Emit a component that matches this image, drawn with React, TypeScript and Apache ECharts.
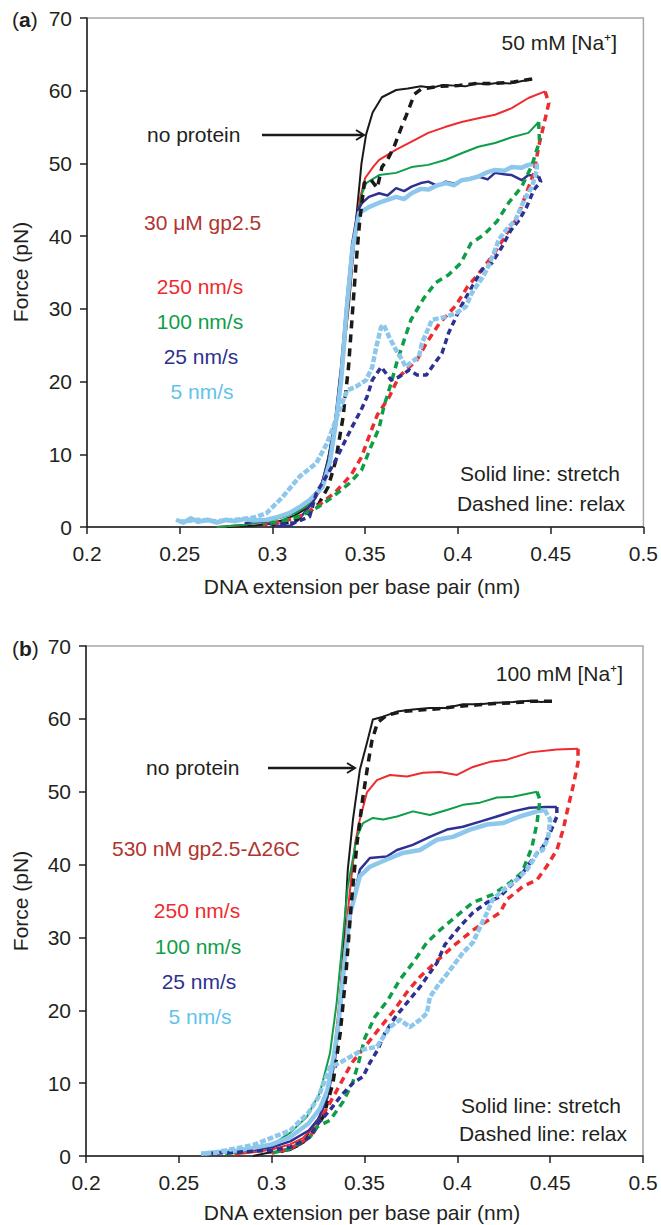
import React, { useEffect, useRef } from "react";
import * as echarts from "echarts";

// ---------- tick labels ----------
const xTicks = [0.2, 0.25, 0.3, 0.35, 0.4, 0.45, 0.5];
const yTicks = [0, 10, 20, 30, 40, 50, 60, 70];

// ---------- panel (a): 50 mM Na+, 30 uM gp2.5 ----------
const aNoProteinStretch = [[0.275,0],[0.285,0.1],[0.295,0.3],[0.305,0.9],[0.312,1.6],[0.318,2.5],[0.322,3.6],[0.326,5.3],[0.33,9.5],[0.334,15],[0.338,23],[0.3414,31],[0.345,42],[0.348,50],[0.3505,54],[0.354,57],[0.359,59.1],[0.3667,60.1],[0.373,60.3],[0.38,60.6],[0.386,60.4],[0.392,60.8],[0.398,60.7],[0.404,60.6],[0.41,61],[0.416,60.9],[0.422,61.1],[0.428,61],[0.434,61.3],[0.44,61.6]];
const aNoProteinRelax = [[0.44,61.6],[0.43,61.2],[0.42,61],[0.41,61],[0.4,60.7],[0.39,60.6],[0.38,60.2],[0.3765,59.5],[0.3747,58.3],[0.372,56.5],[0.37,55.3],[0.3656,52.3],[0.362,50.5],[0.359,49.5],[0.3565,46.6],[0.353,47.8],[0.3495,47.3],[0.347,42],[0.345,36],[0.343,29],[0.341,22],[0.338,15],[0.334,9],[0.33,5.5],[0.325,3.2],[0.318,1.6],[0.31,0.7],[0.3,0.3]];
const a250Stretch = [[0.27,0],[0.285,0.3],[0.295,0.8],[0.303,1.5],[0.31,2],[0.317,2.6],[0.322,3.5],[0.327,5.5],[0.331,9],[0.335,15],[0.338,22],[0.341,31],[0.344,39],[0.347,45],[0.35,48],[0.3545,49.6],[0.3575,50.5],[0.3667,51.9],[0.375,53],[0.384,54.2],[0.393,55],[0.402,55.7],[0.411,56.2],[0.42,56.7],[0.429,57.6],[0.438,59],[0.447,59.9]];
const a250Relax = [[0.447,59.9],[0.449,58.3],[0.446,55],[0.4435,52.3],[0.441,48.7],[0.437,46],[0.432,42.5],[0.4274,40.8],[0.42,37.8],[0.413,35.4],[0.405,33],[0.399,30.5],[0.39,28],[0.383,25.3],[0.378,23],[0.373,21.8],[0.368,20.6],[0.363,17.9],[0.3565,15.4],[0.352,12.4],[0.348,9.6],[0.3425,7.2],[0.334,4.8],[0.325,3],[0.315,1.5],[0.305,0.7],[0.295,0.3]];
const a100Stretch = [[0.27,0],[0.285,0.3],[0.295,0.7],[0.305,1.3],[0.313,2],[0.319,3],[0.324,4.5],[0.328,7],[0.3306,9.6],[0.334,15],[0.337,22],[0.34,30],[0.343,38],[0.346,43],[0.3485,46],[0.3505,47.3],[0.3575,48.4],[0.3667,48.7],[0.375,49.5],[0.384,49.8],[0.3935,50.5],[0.402,51.4],[0.411,52.3],[0.42,52.8],[0.429,53.6],[0.438,54.2],[0.4435,55.7]];
const a100Relax = [[0.4435,55.7],[0.444,53],[0.442,51.5],[0.44,49.8],[0.4344,46.8],[0.4274,44.6],[0.421,42],[0.414,40.2],[0.407,39],[0.4016,36.3],[0.395,34.7],[0.388,33.6],[0.3817,31.5],[0.3747,28.5],[0.371,25.7],[0.367,22.6],[0.364,19.8],[0.36,16.5],[0.3575,13.6],[0.353,11],[0.348,7.8],[0.3414,6],[0.3323,4.1],[0.325,2.8],[0.315,1.5],[0.305,0.8],[0.295,0.4]];
const a25Stretch = [[0.285,0.5],[0.29,0.8],[0.295,0.6],[0.3,0.3],[0.305,0.1],[0.31,0.2],[0.314,1],[0.318,2.2],[0.322,3.5],[0.326,5.5],[0.33,9],[0.334,15],[0.337,22],[0.34,31],[0.343,39],[0.346,43.5],[0.3484,44.6],[0.352,45.4],[0.3575,45.9],[0.362,45.6],[0.3667,46.6],[0.371,46.2],[0.375,46.8],[0.38,47.3],[0.384,47.5],[0.389,46.9],[0.3935,47.5],[0.398,47.2],[0.402,47.7],[0.407,48],[0.411,48.2],[0.416,47.8],[0.42,48.7],[0.425,48.5],[0.429,48.4],[0.4344,47.7],[0.438,48.4],[0.4435,48.2]];
const a25Relax = [[0.4435,48.2],[0.4446,47.5],[0.441,46.4],[0.437,44],[0.433,42.2],[0.4285,40.8],[0.4237,38.5],[0.4183,36.3],[0.413,35.4],[0.4075,33],[0.4016,30.3],[0.395,26.7],[0.3914,23.9],[0.386,22],[0.383,20.9],[0.378,20.9],[0.3737,21.6],[0.368,20.6],[0.364,20.2],[0.3586,22],[0.3538,20.2],[0.351,17.9],[0.3478,16.1],[0.343,13.8],[0.3387,11.6],[0.3333,8.8],[0.3237,4.7],[0.32,1.4],[0.312,0.6],[0.302,0.3]];
const a5Stretch = [[0.248,1],[0.252,0.6],[0.256,1.2],[0.26,0.7],[0.265,1],[0.27,0.6],[0.275,1],[0.28,0.8],[0.285,1.1],[0.29,0.9],[0.2968,1],[0.303,1.4],[0.309,1.9],[0.315,2.8],[0.32,3.7],[0.327,5.5],[0.331,9],[0.334,14],[0.337,20],[0.34,30],[0.343,38],[0.3468,43.2],[0.352,44],[0.3575,44.6],[0.362,45],[0.3667,45.4],[0.371,45.1],[0.375,45.9],[0.38,46.5],[0.384,46.4],[0.389,47],[0.3935,47.3],[0.398,47],[0.402,47.7],[0.407,47.9],[0.411,48.2],[0.416,48.8],[0.42,49.1],[0.425,49],[0.429,49.5],[0.434,49.4],[0.438,49.8],[0.4425,50]];
const a5Relax = [[0.4425,50],[0.4425,49.1],[0.44,46.8],[0.4366,45.4],[0.434,44],[0.431,42.2],[0.4258,40.8],[0.422,39.5],[0.4194,37.7],[0.4156,35.4],[0.4124,34],[0.4075,32.2],[0.4043,30.3],[0.399,29.4],[0.3935,28.9],[0.386,28.5],[0.383,26.7],[0.3806,25.3],[0.379,23.4],[0.375,22.7],[0.372,22],[0.3694,23.2],[0.3667,24.3],[0.363,26.1],[0.36,27.8],[0.3586,27.5],[0.356,24.8],[0.3538,22],[0.3505,20.2],[0.345,19.3],[0.3403,18.8],[0.336,16],[0.3296,11.6],[0.3237,8.8],[0.3145,6.9],[0.3054,4.1],[0.2968,1.9],[0.29,1.3],[0.28,1],[0.27,0.8],[0.26,1],[0.25,0.7]];

// ---------- panel (b): 100 mM Na+, 530 nM gp2.5-D26C ----------
const bNoProteinStretch = [[0.29,0],[0.2975,0.4],[0.31,0.8],[0.317,1.8],[0.3217,4],[0.326,5.4],[0.33,8.1],[0.334,14],[0.337,22],[0.339,30],[0.341,39.3],[0.3438,46.2],[0.3475,53],[0.3513,56.7],[0.3545,59.9],[0.36,60.3],[0.3675,61],[0.376,61.3],[0.385,61.5],[0.394,61.5],[0.403,62],[0.412,62],[0.421,62.2],[0.43,62.3],[0.439,62.5],[0.445,62.3],[0.451,62.4]];
const bNoProteinRelax = [[0.451,62.4],[0.44,62.4],[0.43,62.2],[0.42,62.1],[0.41,61.9],[0.4,61.7],[0.39,61.4],[0.38,61.2],[0.37,61],[0.362,60.5],[0.357,59.5],[0.354,57],[0.352,54],[0.349,49],[0.346,43],[0.343,35],[0.34,25],[0.337,17],[0.333,10],[0.328,5.5],[0.322,3],[0.315,1.5],[0.305,0.6]];
const b250Stretch = [[0.28,0.2],[0.29,0.5],[0.3,0.9],[0.31,1.6],[0.317,2.5],[0.322,3.8],[0.326,5.5],[0.33,8.5],[0.333,13],[0.336,20],[0.339,28],[0.342,36],[0.345,43],[0.3475,46.2],[0.3513,49.9],[0.3567,51.6],[0.3637,52.3],[0.3729,52.1],[0.3815,52.6],[0.3906,52.7],[0.3998,52.3],[0.4084,53.4],[0.4176,54.1],[0.4267,54.4],[0.4391,55.4],[0.4536,55.8],[0.465,55.9]];
const b250Relax = [[0.465,55.9],[0.465,54],[0.4623,50.7],[0.4596,47.8],[0.457,44.8],[0.4536,42],[0.448,39.7],[0.4429,37.9],[0.4353,37],[0.4267,35.2],[0.423,33.4],[0.4084,31],[0.3987,29],[0.3895,26.9],[0.3799,24.6],[0.3729,22.5],[0.3653,19.8],[0.3583,17.6],[0.3502,15],[0.3432,12.8],[0.3368,9.8],[0.3314,7.3],[0.326,4.9],[0.3206,2.6],[0.31,1],[0.3,0.4]];
const b100Stretch = [[0.275,0.2],[0.285,0.6],[0.295,1.2],[0.303,2],[0.31,3.2],[0.319,5.4],[0.326,8.7],[0.3314,14.1],[0.335,21],[0.338,29],[0.341,37],[0.3459,43.8],[0.3492,45.7],[0.3545,46.4],[0.36,46.2],[0.3675,46.6],[0.3761,47.3],[0.3852,46.8],[0.3944,47.5],[0.403,48.2],[0.4122,48.5],[0.4213,49.2],[0.4299,49.3],[0.4429,50]];
const b100Relax = [[0.4429,50],[0.4445,48.9],[0.4429,45.7],[0.4402,42.4],[0.4348,38.9],[0.4283,37.5],[0.4192,35.9],[0.4084,34.8],[0.4003,33.1],[0.3906,31],[0.3836,29.3],[0.3761,26.5],[0.369,24.2],[0.3626,21.4],[0.3556,19.1],[0.3502,16.2],[0.347,13],[0.3438,10.2],[0.3384,7.4],[0.3314,4.9],[0.3244,4],[0.3206,2.6],[0.31,1],[0.3,0.4]];
const b25Stretch = [[0.262,0.3],[0.27,0.4],[0.28,0.6],[0.29,0.8],[0.3,1.2],[0.31,2],[0.32,3.5],[0.325,5],[0.33,8],[0.334,13],[0.337,20],[0.34,28],[0.343,34],[0.3475,39.3],[0.3529,40.9],[0.362,41.1],[0.3675,42],[0.376,42.7],[0.3852,43.8],[0.3944,44.8],[0.403,45.2],[0.4122,45.9],[0.4213,46.6],[0.43,47.3],[0.439,47.8],[0.448,47.9],[0.4536,47.9]];
const b25Relax = [[0.4536,47.9],[0.4536,46.6],[0.45,44.4],[0.446,42.4],[0.443,41.6],[0.439,40.2],[0.4337,38.3],[0.4283,37],[0.423,35.6],[0.416,34.8],[0.4084,33.4],[0.4014,31.5],[0.3933,29],[0.389,26.5],[0.3799,23.2],[0.3718,20.7],[0.3664,19],[0.361,16.9],[0.3572,14.6],[0.3529,12.8],[0.3492,10.9],[0.3438,10],[0.3378,8.4],[0.3314,6.3],[0.325,4.5],[0.32,2.5],[0.31,1.2],[0.3,0.8],[0.28,0.5],[0.262,0.3]];
const b5Stretch = [[0.262,0.3],[0.27,0.5],[0.28,0.7],[0.29,1.1],[0.3,1.6],[0.31,2.6],[0.32,4.5],[0.326,6.5],[0.33,9],[0.333,13],[0.336,18],[0.339,26],[0.342,33],[0.3475,38.4],[0.3529,39.7],[0.362,40.7],[0.3707,41.6],[0.3799,42],[0.389,43.4],[0.3976,43.8],[0.4068,44.8],[0.416,45.5],[0.4246,45.7],[0.4337,46.6],[0.4429,47.3],[0.447,47.5]];
const b5Relax = [[0.447,47.5],[0.45,46.2],[0.449,43.8],[0.446,42],[0.443,41.6],[0.441,40.7],[0.4375,39.3],[0.432,37.9],[0.4246,36.5],[0.419,35.2],[0.416,33.4],[0.4133,32],[0.4084,29.3],[0.403,27.9],[0.396,25.5],[0.389,23.2],[0.3852,21.8],[0.3836,19.6],[0.3799,18.7],[0.3745,17.7],[0.369,18.7],[0.3637,17.7],[0.36,16.3],[0.3567,15],[0.3492,14.6],[0.3422,13.6],[0.3368,12.8],[0.3314,12.2],[0.325,8],[0.32,6],[0.31,3.5],[0.3,2.5],[0.29,1.5],[0.28,1],[0.27,0.5],[0.262,0.3]];

const FONT = "'Liberation Sans', Arial, Helvetica, sans-serif";
const TXT = "#231f20";
const C_BLACK = "#1a1a1a";
const C_RED = "#ee2b2e";
const C_GREEN = "#0e9e48";
const C_DBLUE = "#2e3192";
const C_LBLUE = "#8dc8ec";

function mk(data: number[][], color: string, dashed: boolean, width: number, g: number, dash?: number[]) {
  return {
    type: "line",
    xAxisIndex: g,
    yAxisIndex: g,
    data,
    showSymbol: false,
    symbol: "none",
    silent: true,
    lineStyle: {
      color,
      width,
      type: dashed ? (dash || [7, 5]) : "solid",
      cap: "butt",
      join: "round",
    },
  };
}

function txt(text: string, x: number, y: number, fill: string, align = "center", extra: any = {}) {
  return {
    type: "text",
    x,
    y,
    silent: true,
    ...extra,
    style: {
      text,
      fill,
      font: `21px ${FONT}`,
      textAlign: align,
      align,
      textVerticalAlign: "middle",
      verticalAlign: "middle",
    },
  };
}

function arrow(x1: number, x2: number, y: number) {
  return [
    { type: "line", silent: true, shape: { x1, y1: y, x2: x2 - 1, y2: y }, style: { stroke: C_BLACK, lineWidth: 2.5 } },
    { type: "polyline", silent: true, shape: { points: [[x2 - 8, y - 5], [x2, y], [x2 - 8, y + 5]] }, style: { stroke: C_BLACK, lineWidth: 2, fill: null } },
  ];
}

function xAxisCfg(g: number) {
  return {
    type: "value",
    gridIndex: g,
    min: xTicks[0],
    max: xTicks[xTicks.length - 1],
    interval: 0.05,
    axisLine: { show: true, onZero: false, lineStyle: { color: TXT, width: 1.5 } },
    axisTick: { show: true, inside: false, length: 7, lineStyle: { color: TXT, width: 1.5 } },
    splitLine: { show: false },
    axisLabel: {
      color: TXT,
      fontSize: 21,
      fontFamily: FONT,
      margin: 16,
      formatter: (v: number) => String(+v.toFixed(2)),
    },
  };
}

function yAxisCfg(g: number) {
  return {
    type: "value",
    gridIndex: g,
    min: yTicks[0],
    max: yTicks[yTicks.length - 1],
    interval: 10,
    axisLine: { show: true, onZero: false, lineStyle: { color: TXT, width: 1.5 } },
    axisTick: { show: true, inside: false, length: 7, lineStyle: { color: TXT, width: 1.5 } },
    splitLine: { show: false },
    axisLabel: { color: TXT, fontSize: 21, fontFamily: FONT, margin: 15 },
  };
}

export default function App() {
  const ref = useRef<HTMLDivElement>(null);
  useEffect(() => {
    if (!ref.current) return;
    const chart = echarts.init(ref.current, undefined, { renderer: "svg" });
    const series: any[] = [];
    const panels = [
      [aNoProteinStretch, aNoProteinRelax, a250Stretch, a250Relax, a100Stretch, a100Relax, a25Stretch, a25Relax, a5Stretch, a5Relax],
      [bNoProteinStretch, bNoProteinRelax, b250Stretch, b250Relax, b100Stretch, b100Relax, b25Stretch, b25Relax, b5Stretch, b5Relax],
    ];
    panels.forEach((p, g) => {
      series.push(mk(p[0], C_BLACK, false, 2, g));
      series.push(mk(p[2], C_RED, false, 2, g));
      series.push(mk(p[4], C_GREEN, false, 2, g));
      series.push(mk(p[6], C_DBLUE, false, 2.5, g));
      series.push(mk(p[8], C_LBLUE, false, 4.5, g));
      series.push(mk(p[1], C_BLACK, true, 3.5, g, [8, 6]));
      series.push(mk(p[3], C_RED, true, 3.5, g));
      series.push(mk(p[5], C_GREEN, true, 3.5, g));
      series.push(mk(p[7], C_DBLUE, true, 3.5, g, [6, 4]));
      series.push(mk(p[9], C_LBLUE, true, 4.5, g, [6, 2]));
    });

    const graphics: any[] = [
      // panel a
      { type: "text", x: 12, y: 19, silent: true, style: { text: "({b|a})", fill: TXT, font: `21px ${FONT}`, textVerticalAlign: "middle", verticalAlign: "middle", rich: { b: { fontWeight: "bold", fontSize: 21, fontFamily: FONT, fill: TXT, color: TXT } } } },
      txt("50 mM [Na⁺]", 617, 42, TXT, "right"),
      txt("no protein", 147, 134, TXT, "left"),
      ...arrow(262, 364, 135),
      txt("30 μM gp2.5", 144, 222, "#b03530", "left"),
      txt("250 nm/s", 200, 286, C_RED),
      txt("100 nm/s", 200, 321, C_GREEN),
      txt("25 nm/s", 201, 356, C_DBLUE),
      txt("5 nm/s", 202, 391, "#5fc3ea"),
      txt("Solid line: stretch", 540, 473, TXT),
      txt("Dashed line: relax", 541, 503, TXT),
      txt("Force (pN)", 20, 272, TXT, "center", { rotation: Math.PI / 2 }),
      txt("DNA extension per base pair (nm)", 362, 586, TXT),
      // panel b
      { type: "text", x: 12, y: 648, silent: true, style: { text: "({b|b})", fill: TXT, font: `21px ${FONT}`, textVerticalAlign: "middle", verticalAlign: "middle", rich: { b: { fontWeight: "bold", fontSize: 21, fontFamily: FONT, fill: TXT, color: TXT } } } },
      txt("100 mM [Na⁺]", 623, 673, TXT, "right"),
      txt("no protein", 146, 767, TXT, "left"),
      ...arrow(268, 355, 768),
      txt("530 nM gp2.5-Δ26C", 112, 848, "#b03530", "left"),
      txt("250 nm/s", 197, 910, C_RED),
      txt("100 nm/s", 198, 946, C_GREEN),
      txt("25 nm/s", 199, 981, C_DBLUE),
      txt("5 nm/s", 200, 1016, "#5fc3ea"),
      txt("Solid line: stretch", 541, 1105, TXT),
      txt("Dashed line: relax", 543, 1133, TXT),
      txt("Force (pN)", 20, 901, TXT, "center", { rotation: Math.PI / 2 }),
      txt("DNA extension per base pair (nm)", 362, 1212, TXT),
    ];

    chart.setOption({
      animation: false,
      backgroundColor: "#ffffff",
      grid: [
        { left: 87, top: 18, width: 557, height: 509, show: true, borderColor: "#a8a8a8", borderWidth: 1.5, containLabel: false },
        { left: 86, top: 646, width: 557, height: 510, show: true, borderColor: "#a8a8a8", borderWidth: 1.5, containLabel: false },
      ],
      xAxis: [xAxisCfg(0), xAxisCfg(1)],
      yAxis: [yAxisCfg(0), yAxisCfg(1)],
      series,
      graphic: graphics,
    });
    return () => chart.dispose();
  }, []);
  return <div ref={ref} style={{ position: "absolute", left: 0, top: 0, width: 661, height: 1225 }} />;
}
